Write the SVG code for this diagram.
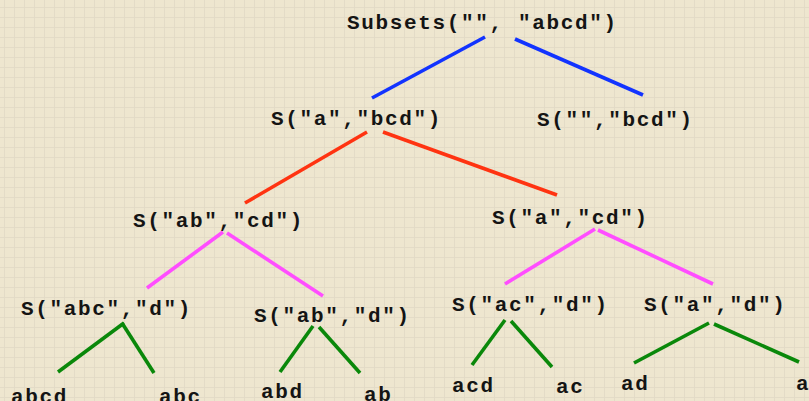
<svg xmlns="http://www.w3.org/2000/svg" width="809" height="401" viewBox="0 0 809 401">
<defs>
<pattern id="grid" x="4" y="7" width="10" height="10" patternUnits="userSpaceOnUse">
<rect width="10" height="10" fill="#EEE6CF"/>
<path d="M0 0.5H10M0.5 0V10" stroke="#E3DBC7" stroke-width="1" fill="none"/>
</pattern>
<style>
text{font-family:"Liberation Mono","Courier New",monospace;font-weight:bold;font-size:21px;letter-spacing:1.65px;fill:#141414}
.c line{stroke-width:3.6;stroke-linecap:butt}
.b{stroke:#1233FF}.r{stroke:#FF3311}.m{stroke:#FF4DFF}.g{stroke:#0A880A}
</style>
</defs>
<rect width="809" height="401" fill="url(#grid)"/>
<g id="connectors" class="c">
<line class="b" x1="485" y1="37" x2="372" y2="98"/>
<line class="b" x1="515" y1="39" x2="643" y2="95"/>
<line class="r" x1="367" y1="132" x2="245" y2="203"/>
<line class="r" x1="383" y1="132" x2="557" y2="195"/>
<line class="m" x1="223" y1="232" x2="147" y2="288"/>
<line class="m" x1="227" y1="233" x2="323" y2="296"/>
<line class="m" x1="595" y1="229" x2="505" y2="284"/>
<line class="m" x1="598" y1="230" x2="713" y2="284"/>
<line class="g" x1="124" y1="323" x2="58" y2="372"/>
<line class="g" x1="122" y1="323" x2="154" y2="373"/>
<line class="g" x1="313" y1="326" x2="280" y2="372"/>
<line class="g" x1="319" y1="327" x2="360" y2="373"/>
<line class="g" x1="505" y1="320" x2="472" y2="365"/>
<line class="g" x1="511" y1="321" x2="552" y2="367"/>
<line class="g" x1="709" y1="323" x2="634" y2="363"/>
<line class="g" x1="714" y1="324" x2="799" y2="362"/>
</g>
<g id="root"><text x="347" y="29">Subsets("", "abcd")</text></g>
<g id="s_a_bcd"><text x="271" y="125">S("a","bcd")</text></g>
<g id="s__bcd"><text x="537" y="126">S("","bcd")</text></g>
<g id="s_ab_cd"><text x="133" y="227">S("ab","cd")</text></g>
<g id="s_a_cd"><text x="492" y="224">S("a","cd")</text></g>
<g id="s_abc_d"><text x="21" y="315">S("abc","d")</text></g>
<g id="s_ab_d"><text x="254" y="322">S("ab","d")</text></g>
<g id="s_ac_d"><text x="452" y="311">S("ac","d")</text></g>
<g id="s_a_d"><text x="644" y="311">S("a","d")</text></g>
<g id="leaf_abcd"><text x="11" y="403">abcd</text></g>
<g id="leaf_abc"><text x="159" y="403">abc</text></g>
<g id="leaf_abd"><text x="261" y="398">abd</text></g>
<g id="leaf_ab"><text x="364" y="401">ab</text></g>
<g id="leaf_acd"><text x="452" y="392">acd</text></g>
<g id="leaf_ac"><text x="556" y="393">ac</text></g>
<g id="leaf_ad"><text x="621" y="390">ad</text></g>
<g id="leaf_a"><text x="796" y="390">a</text></g>
</svg>
